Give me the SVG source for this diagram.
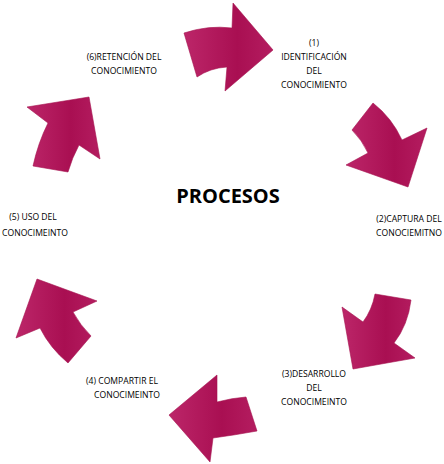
<svg xmlns="http://www.w3.org/2000/svg" width="444" height="464" viewBox="0 0 444 464">
<defs>
<linearGradient id="g" x1="0" y1="0" x2="1" y2="0">
<stop offset="0" stop-color="#bc2669"/>
<stop offset="0.6" stop-color="#a90f52"/>
<stop offset="1" stop-color="#b41d60"/>
</linearGradient>
<style>
.arr{fill:url(#g);stroke:#a4104e;stroke-width:0.6;stroke-linejoin:miter}
.lb{font-family:"Open Sans","DejaVu Sans",sans-serif;font-size:8.6px;fill:#000;text-anchor:middle}
.title{font-family:"Open Sans","DejaVu Sans",sans-serif;font-size:20px;font-weight:bold;fill:#000;text-anchor:middle}
</style>
</defs>
<rect width="444" height="464" fill="#fff"/>
<g id="connectors">
<path id="a1" class="arr" d="M184,33 Q208,25 232,28 L233,3 L273,50 L225,91 L227,67 Q210,68 197,77 Z"/>
<path id="a2" class="arr" d="M373,103 Q392,118 402,140 L427,128 L408,187 L346,165 L368,153 Q362,140 352,130 Z"/>
<path id="a3" class="arr" d="M375,294 L411,300 Q408,325 394,343 L415,358 L353,369 L342,307 L363,322 Q372,310 375,294 Z"/>
<path id="a4" class="arr" d="M217,375 L217,402 Q232,398 246,397 L257,431 Q235,435 213,438 L210,462 L169,415 Z"/>
<path id="a5" class="arr" d="M37,279 L97,301 L73,312 Q80,325 91,336 L68,363 Q50,348 40,328 L16,338 Z"/>
<path id="a6" class="arr" d="M89,97 L100,159 L79,145 Q72,158 68,172 L33,166 Q38,143 48,123 L27,107 Z"/>
</g>
<g id="center"><text class="title" x="228" y="203">PROCESOS</text></g>
<g id="n1">
<text class="lb" x="314" y="46">(1)</text>
<text class="lb" x="314" y="60">IDENTIFICACIÓN</text>
<text class="lb" x="314" y="74">DEL</text>
<text class="lb" x="314" y="88">CONOCIMIENTO</text>
</g>
<g id="n2">
<text class="lb" x="409" y="222">(2)CAPTURA DEL</text>
<text class="lb" x="409" y="236">CONOCIEMITNO</text>
</g>
<g id="n3">
<text class="lb" x="314" y="377">(3)DESARROLLO</text>
<text class="lb" x="314" y="391">DEL</text>
<text class="lb" x="314" y="405">CONOCIMEINTO</text>
</g>
<g id="n4">
<text class="lb" x="122" y="384">(4) COMPARTIR EL</text>
<text class="lb" x="127" y="398">CONOCIMEINTO</text>
</g>
<g id="n5">
<text class="lb" x="33" y="220">(5) USO DEL</text>
<text class="lb" x="35" y="236">CONOCIMEINTO</text>
</g>
<g id="n6">
<text class="lb" x="124" y="60">(6)RETENCIÓN DEL</text>
<text class="lb" x="124" y="74">CONOCIMIENTO</text>
</g>
</svg>
